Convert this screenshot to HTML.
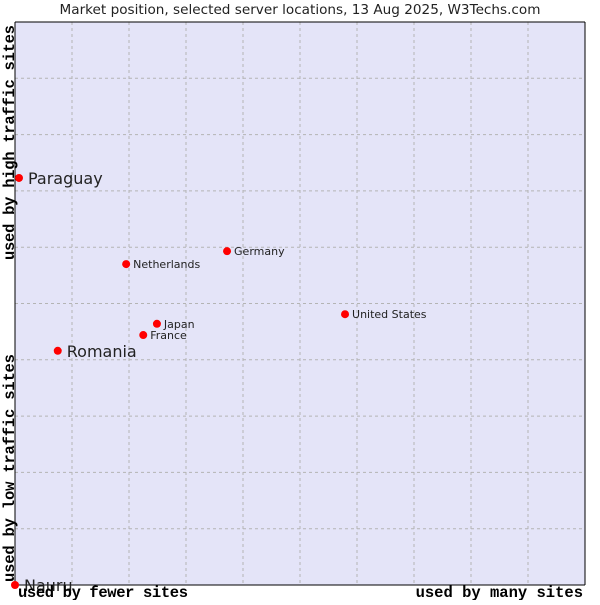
<!DOCTYPE html>
<html><head><meta charset="utf-8"><style>
body{margin:0;background:#fff;width:600px;height:600px;overflow:hidden}
svg text{font-family:"DejaVu Sans","Liberation Sans",sans-serif}
.mono{font-family:"Liberation Mono","DejaVu Sans Mono",monospace}
</style></head><body>
<svg id="c" width="600" height="600" xmlns="http://www.w3.org/2000/svg">
<text x="300" y="14" text-anchor="middle" font-size="13.6" fill="#222">Market position, selected server locations, 13 Aug 2025, W3Techs.com</text>
<rect x="15" y="22" width="570" height="563" fill="#e4e4f8"/>
<g id="grid"></g>
<line x1="15" y1="22" x2="15" y2="585" stroke="#000"/>
<line x1="15" y1="585" x2="585" y2="585" stroke="#000"/>
<line x1="15" y1="22" x2="585" y2="22" stroke="#000"/>
<line x1="585" y1="22" x2="585" y2="585" stroke="#000"/>
<g id="pts"></g>
<text class="mono" x="18" y="597" font-size="15.5" font-weight="bold" fill="#000" textLength="170">used by fewer sites</text>
<text class="mono" x="583" y="597" font-size="15.5" font-weight="bold" fill="#000" text-anchor="end">used by many sites</text>
<text class="mono" transform="translate(14,260) rotate(-90)" font-size="15.5" font-weight="bold" fill="#000" textLength="235">used by high traffic sites</text>
<text class="mono" transform="translate(14,582) rotate(-90)" font-size="15.5" font-weight="bold" fill="#000" textLength="228">used by low traffic sites</text>
</svg>
<script>
const names=["Paraguay","Romania","Nauru","Netherlands","Germany","United States","Japan","France"];
const xVals=[0.007,0.075,0.0,0.195,0.372,0.579,0.249,0.225];
const yVals=[0.723,0.416,0.0,0.570,0.593,0.481,0.464,0.444];
const big=[true,true,true,false,false,false,false,false];
const L=15,T=22,W=570,H=563;
const sx=v=>L+v*W, sy=v=>T+H-v*H;
const NS="http://www.w3.org/2000/svg";
const g=document.getElementById('grid');
for(let i=1;i<10;i++){
  const x=L+i*57;
  const l=document.createElementNS(NS,'line');
  l.setAttribute('x1',x);l.setAttribute('x2',x);l.setAttribute('y1',T);l.setAttribute('y2',T+H);
  l.setAttribute('stroke','#b4b4b4');l.setAttribute('stroke-dasharray','3,3');
  
  
  g.appendChild(l);
  const y=T+i*H/10;
  const h=document.createElementNS(NS,'line');
  h.setAttribute('x1',L);h.setAttribute('x2',L+W);h.setAttribute('y1',y);h.setAttribute('y2',y);
  h.setAttribute('stroke','#b4b4b4');h.setAttribute('stroke-dasharray','3,3');
  
  
  g.appendChild(h);
}
const p=document.getElementById('pts');
names.forEach((n,i)=>{
  const x=sx(xVals[i]),y=sy(yVals[i]);
  const c=document.createElementNS(NS,'circle');
  c.setAttribute('cx',x);c.setAttribute('cy',y);c.setAttribute('r',4);c.setAttribute('fill','#f00');
  
  
  p.appendChild(c);
  const t=document.createElementNS(NS,'text');
  t.setAttribute('x',x+(big[i]?9:7));t.setAttribute('y',y+(big[i]?6:4));
  t.setAttribute('font-size',big[i]?16:11);t.setAttribute('fill','#222');
  t.textContent=n;
  
  
  p.appendChild(t);
});
</script>
</body></html>
